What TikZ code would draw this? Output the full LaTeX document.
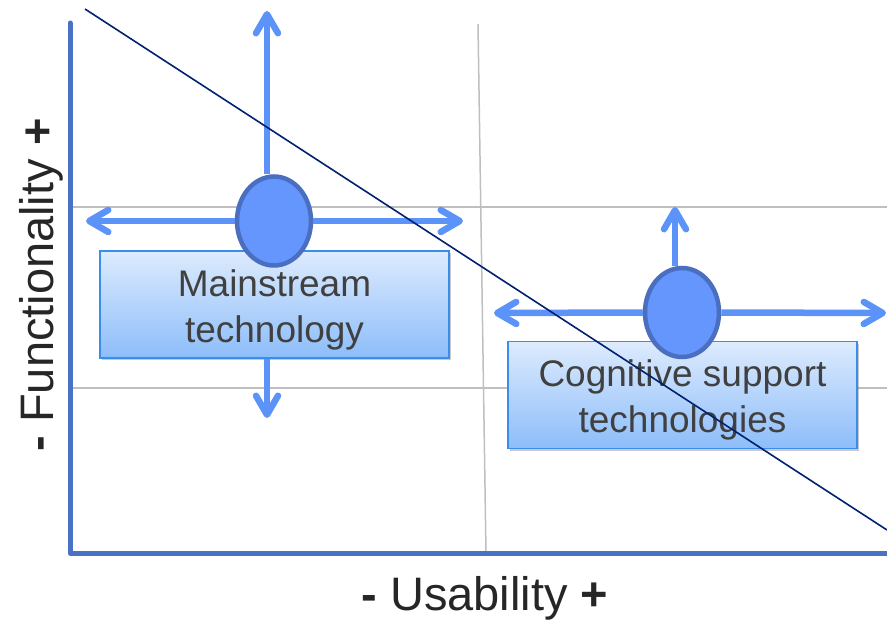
\documentclass[tikz,border=0pt]{standalone}
\usepackage{fontspec}
\setmainfont{Liberation Sans}
\usepackage{tikz}
\usetikzlibrary{arrows.meta,positioning,shapes.geometric,shadows}
\usepackage{xcolor}
\definecolor{axisblue}{HTML}{4A72C4}
\definecolor{gridgray}{HTML}{BFBFBF}
\definecolor{arrowblue}{HTML}{5C93F8}
\definecolor{blobfill}{HTML}{6496FE}
\definecolor{blobedge}{HTML}{4A6FC0}
\definecolor{boxtop}{HTML}{DDEBFD}
\definecolor{boxbottom}{HTML}{8DBDFA}
\definecolor{boxedge}{HTML}{3A8DEA}
\definecolor{boxtext}{HTML}{404040}
\definecolor{labeltext}{HTML}{262626}
\definecolor{trendnavy}{HTML}{002070}

\begin{document}
\begin{tikzpicture}[
    x=1pt, y=-1pt,
    axis/.style={draw=axisblue, line width=5pt, line cap=round, line join=round},
    gridline/.style={draw=gridgray, line width=1.5pt},
    arrow/.style={-{Straight Barb[length=19pt, width=22pt, round]}, draw=arrowblue, line width=6.5pt},
    techbox/.style={rectangle, draw=boxedge, line width=1.5pt, top color=boxtop, bottom color=boxbottom,
        minimum width=349pt, minimum height=107pt, inner sep=0pt, align=center,
        font=\fontsize{37}{46}\selectfont, text=boxtext,
        drop shadow={shadow xshift=2pt, shadow yshift=-2.5pt, opacity=0.35, fill=black!60}},
    blob/.style={ellipse, draw=blobedge, fill=blobfill, line width=4.5pt, minimum width=74pt, minimum height=89pt, inner sep=0pt},
    axislabel/.style={font=\fontsize{47}{56}\selectfont, text=labeltext, inner sep=0pt},
    trend/.style={draw=trendnavy, line width=1.6pt}
]
    \useasboundingbox (0,0) rectangle (887,620);

    % Grid
    \coordinate (gtop) at (478,24);
    \coordinate (gbot) at (486,553);
    \coordinate (hlow) at (73,207);
    \coordinate (hlowend) at (887,207);
    \coordinate (hmid) at (73,388);
    \coordinate (hmidend) at (887,388);
    \draw[gridline] (gtop) -- (gbot);
    \draw[gridline] (hlow) -- (hlowend);
    \draw[gridline] (hmid) -- (hmidend);

    % Axes
    \coordinate (ytop) at (70,23);
    \coordinate (origin) at (70,553);
    \coordinate (xend) at (890,553);
    \draw[axis] (ytop) -- (origin) -- (xend);

    % Axis labels
    \node[axislabel, anchor=base] (usability) at (485,610) {\textbf{-} Usability \textbf{+}};
    \node[axislabel, anchor=base, rotate=90] (functionality) at (53,285) {\textbf{-} Functionality \textbf{+}};

    % Mainstream technology
    \node[techbox] (msbox) at (274.5,304.5) {\rule{0pt}{37pt}Mainstream\\technology};
    \node[blob] (ms) at (274,221) {};
    \coordinate (msup) at (267,11);
    \coordinate (msleft) at (86,221);
    \coordinate (msright) at (463,221);
    \coordinate (msdown) at (267,418);
    \draw[arrow] ([xshift=-7pt]ms.north) -- (msup);
    \draw[arrow] (ms.west) -- (msleft);
    \draw[arrow] (ms.east) -- (msright);
    \draw[arrow] ([xshift=-7.5pt]msbox.south) -- (msdown);

    % Cognitive support technologies
    \node[techbox] (cgbox) at (682.5,395) {\rule{0pt}{37pt}Cognitive support\\technologies};
    \node[blob] (cg) at (682,312.5) {};
    \coordinate (cgup) at (675,207);
    \coordinate (cgleft) at (494,313);
    \coordinate (cgright) at (886,313);
    \draw[arrow] ([xshift=-7pt]cg.north) -- (cgup);
    \draw[arrow] (cg.west) -- (cgleft);
    \draw[arrow] (cg.east) -- (cgright);

    % Trade-off line
    \coordinate (tstart) at (85,9);
    \coordinate (tend) at (887,530);
    \draw[trend] (tstart) -- (tend);

\end{tikzpicture}
\end{document}
